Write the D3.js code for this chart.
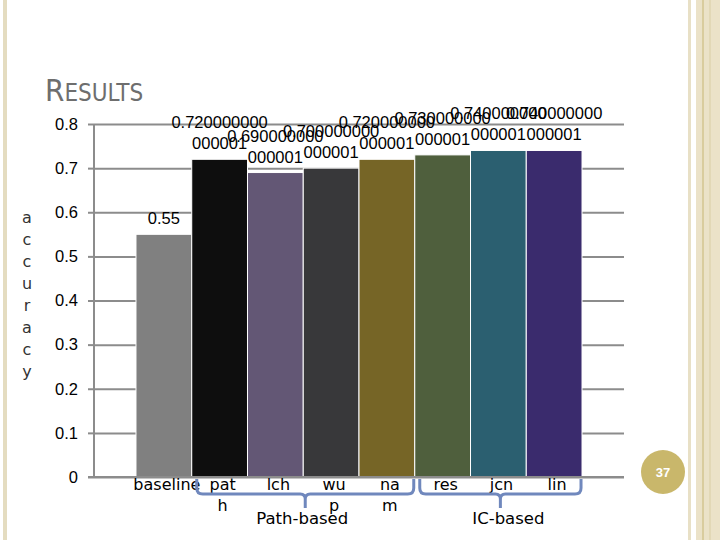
<!DOCTYPE html>
<html>
<head>
<meta charset="utf-8">
<script src="https://cdn.jsdelivr.net/npm/d3@7"></script>
<style>
  body { margin: 0; background: #fff; }
  svg { display: block; }
</style>
</head>
<body>
<div id="chart"></div>
<script>
// chart data
const categories = ["baseline", "path", "lch", "wup", "nam", "res", "jcn", "lin"];
const categoryLines = [["baseline"], ["pat", "h"], ["lch"], ["wu", "p"], ["na", "m"], ["res"], ["jcn"], ["lin"]];
const accuracy = [0.55, 0.72, 0.69, 0.70, 0.72, 0.73, 0.74, 0.74];
const valueLabels = ["0.55", "0.720000000000001", "0.690000000000001", "0.700000000000001",
                     "0.720000000000001", "0.730000000000001", "0.740000000000001", "0.740000000000001"];
const barColors = ["#808080", "#0e0e0e", "#635775", "#38383a", "#766526", "#4f5f3d", "#2b5f70", "#3a2b6d"];
const yTicks = [0, 0.1, 0.2, 0.3, 0.4, 0.5, 0.6, 0.7, 0.8];
const groupNames = ["Path-based", "IC-based"];
const groupFrom = ["path", "res"];
const groupTo = ["nam", "lin"];
const yTitle = "accuracy";

const W = 720, H = 540;
const plot = { left: 94, right: 624, top: 124, bottom: 477 };

const svg = d3.select("#chart").append("svg")
    .attr("width", W)
    .attr("height", H);

svg.append("rect").attr("width", W).attr("height", H).attr("fill", "#fff");

// slide decorations (borders)
svg.append("rect").attr("x", 3).attr("y", 0).attr("width", 4).attr("height", H).attr("fill", "#e4dcc0");
svg.append("rect").attr("x", 688).attr("y", 0).attr("width", 3).attr("height", H).attr("fill", "#e8e0c6");
svg.append("rect").attr("x", 696).attr("y", 0).attr("width", 24).attr("height", H).attr("fill", "#ebe2c8");
svg.append("rect").attr("x", 702).attr("y", 0).attr("width", 2).attr("height", H).attr("fill", "#d9cc9e");
svg.append("rect").attr("x", 709).attr("y", 0).attr("width", 2).attr("height", H).attr("fill", "#e2d8b6");

// title with small caps look
const title = svg.append("text")
    .attr("x", 45)
    .attr("y", 101)
    .attr("fill", "#6e6e6e")
    .style("font-family", "'DejaVu Sans Condensed', 'DejaVu Sans', sans-serif");
title.append("tspan").style("font-size", "31px").text("R");
title.append("tspan").style("font-size", "24px").text("ESULTS");

// scales
const x = d3.scaleBand()
    .domain(categories)
    .range([plot.left, plot.right])
    .paddingInner(0)
    .paddingOuter(0.753);

const y = d3.scaleLinear()
    .domain([0, 0.8])
    .range([plot.bottom, plot.top]);

// gridlines
svg.append("g")
    .attr("transform", `translate(${plot.left},0)`)
    .call(d3.axisLeft(y).tickValues(yTicks).tickSize(-(plot.right - plot.left)).tickFormat(""))
    .call(g => g.select(".domain").remove())
    .call(g => g.selectAll(".tick line").attr("stroke", "#8c8c8c").attr("stroke-width", 2));

// bars
svg.selectAll("rect.bar")
    .data(categories)
    .enter()
    .append("rect")
    .attr("class", "bar")
    .attr("x", d => x(d))
    .attr("y", (d, i) => y(accuracy[i]))
    .attr("width", x.bandwidth())
    .attr("height", (d, i) => y(0) - y(accuracy[i]))
    .attr("fill", (d, i) => barColors[i])
    .attr("stroke", "#fff")
    .attr("stroke-width", 1);

// y axis with tick labels
svg.append("g")
    .attr("transform", `translate(${plot.left},0)`)
    .call(d3.axisLeft(y).tickValues(yTicks).tickSize(6).tickPadding(10).tickFormat(d3.format("~g")))
    .call(g => g.select(".domain").attr("stroke", "#8c8c8c").attr("stroke-width", 2).attr("d", `M0,${plot.top}V${plot.bottom}`))
    .call(g => g.selectAll(".tick line").attr("stroke", "#8c8c8c").attr("stroke-width", 2))
    .call(g => g.selectAll(".tick text")
        .attr("fill", "#000")
        .style("font-family", "'Liberation Sans', Arial, sans-serif")
        .style("font-size", "16.5px"));

// x axis line
svg.append("line")
    .attr("x1", plot.left - 6)
    .attr("x2", plot.right)
    .attr("y1", y(0))
    .attr("y2", y(0))
    .attr("stroke", "#8c8c8c")
    .attr("stroke-width", 2);

// value labels (wrapped like the original text boxes)
const vl = svg.selectAll("text.vlabel")
    .data(categories)
    .enter()
    .append("text")
    .attr("class", "vlabel")
    .attr("text-anchor", "middle")
    .attr("fill", "#000")
    .style("font-family", "'Liberation Sans', Arial, sans-serif")
    .style("font-size", "16.5px");

vl.each(function(d, i) {
    const label = valueLabels[i];
    const lines = label.length > 11 ? [label.slice(0, 11), label.slice(11)] : [label];
    const cx = x(d) + x.bandwidth() / 2;
    const top = y(accuracy[i]);
    const t = d3.select(this);
    lines.forEach((ln, k) => {
        t.append("tspan")
            .attr("x", cx)
            .attr("y", top - 10 - (lines.length - 1 - k) * 21)
            .text(ln);
    });
});

// category labels
svg.selectAll("text.cat")
    .data(categories)
    .enter()
    .append("text")
    .attr("class", "cat")
    .attr("text-anchor", "middle")
    .attr("fill", "#000")
    .style("font-family", "'DejaVu Sans', Verdana, sans-serif")
    .style("font-size", "16px")
    .each(function(d, i) {
        const t = d3.select(this);
        categoryLines[i].forEach((ln, k) => {
            t.append("tspan")
                .attr("x", x(d) + x.bandwidth() / 2 + 3)
                .attr("y", 490 + k * 21)
                .text(ln);
        });
    });

// group brackets
groupNames.forEach((name, i) => {
    const x1 = x(groupFrom[i]) + 5;
    const x2 = x(groupTo[i]) + x.bandwidth() - 1;
    const xc = (x1 + x2) / 2;
    const yt = 479, yh = 494, yb = 508;
    const p = `M${x1},${yt}L${x1},${yh - 6}Q${x1},${yh} ${x1 + 6},${yh}` +
              `L${xc - 5},${yh}Q${xc},${yh} ${xc},${yh + 5}L${xc},${yb}` +
              `M${xc},${yh + 5}Q${xc},${yh} ${xc + 5},${yh}` +
              `L${x2 - 6},${yh}Q${x2},${yh} ${x2},${yh - 6}L${x2},${yt}`;
    svg.append("path")
        .attr("d", p)
        .attr("fill", "none")
        .attr("stroke", "#7088bd")
        .attr("stroke-width", 3);
    svg.append("text")
        .attr("x", xc + (i === 0 ? -3 : 8))
        .attr("y", 524)
        .attr("text-anchor", "middle")
        .attr("fill", "#000")
        .style("font-family", "'DejaVu Sans', Verdana, sans-serif")
        .style("font-size", "16.5px")
        .text(name);
});

// y axis title, letters stacked vertically
svg.append("g")
    .selectAll("text")
    .data(yTitle.split(""))
    .enter()
    .append("text")
    .attr("x", 27)
    .attr("y", (d, i) => 223 + i * 22)
    .attr("text-anchor", "middle")
    .attr("fill", "#333")
    .style("font-family", "'DejaVu Sans', Verdana, sans-serif")
    .style("font-size", "16px")
    .text(d => d);

// slide number badge
svg.append("circle")
    .attr("cx", 663)
    .attr("cy", 472)
    .attr("r", 22)
    .attr("fill", "#c9b76b");
svg.append("text")
    .attr("x", 663)
    .attr("y", 477)
    .attr("text-anchor", "middle")
    .attr("fill", "#fff")
    .style("font-family", "'Liberation Sans', Arial, sans-serif")
    .style("font-size", "13px")
    .style("font-weight", "bold")
    .text("37");
</script>
</body>
</html>
